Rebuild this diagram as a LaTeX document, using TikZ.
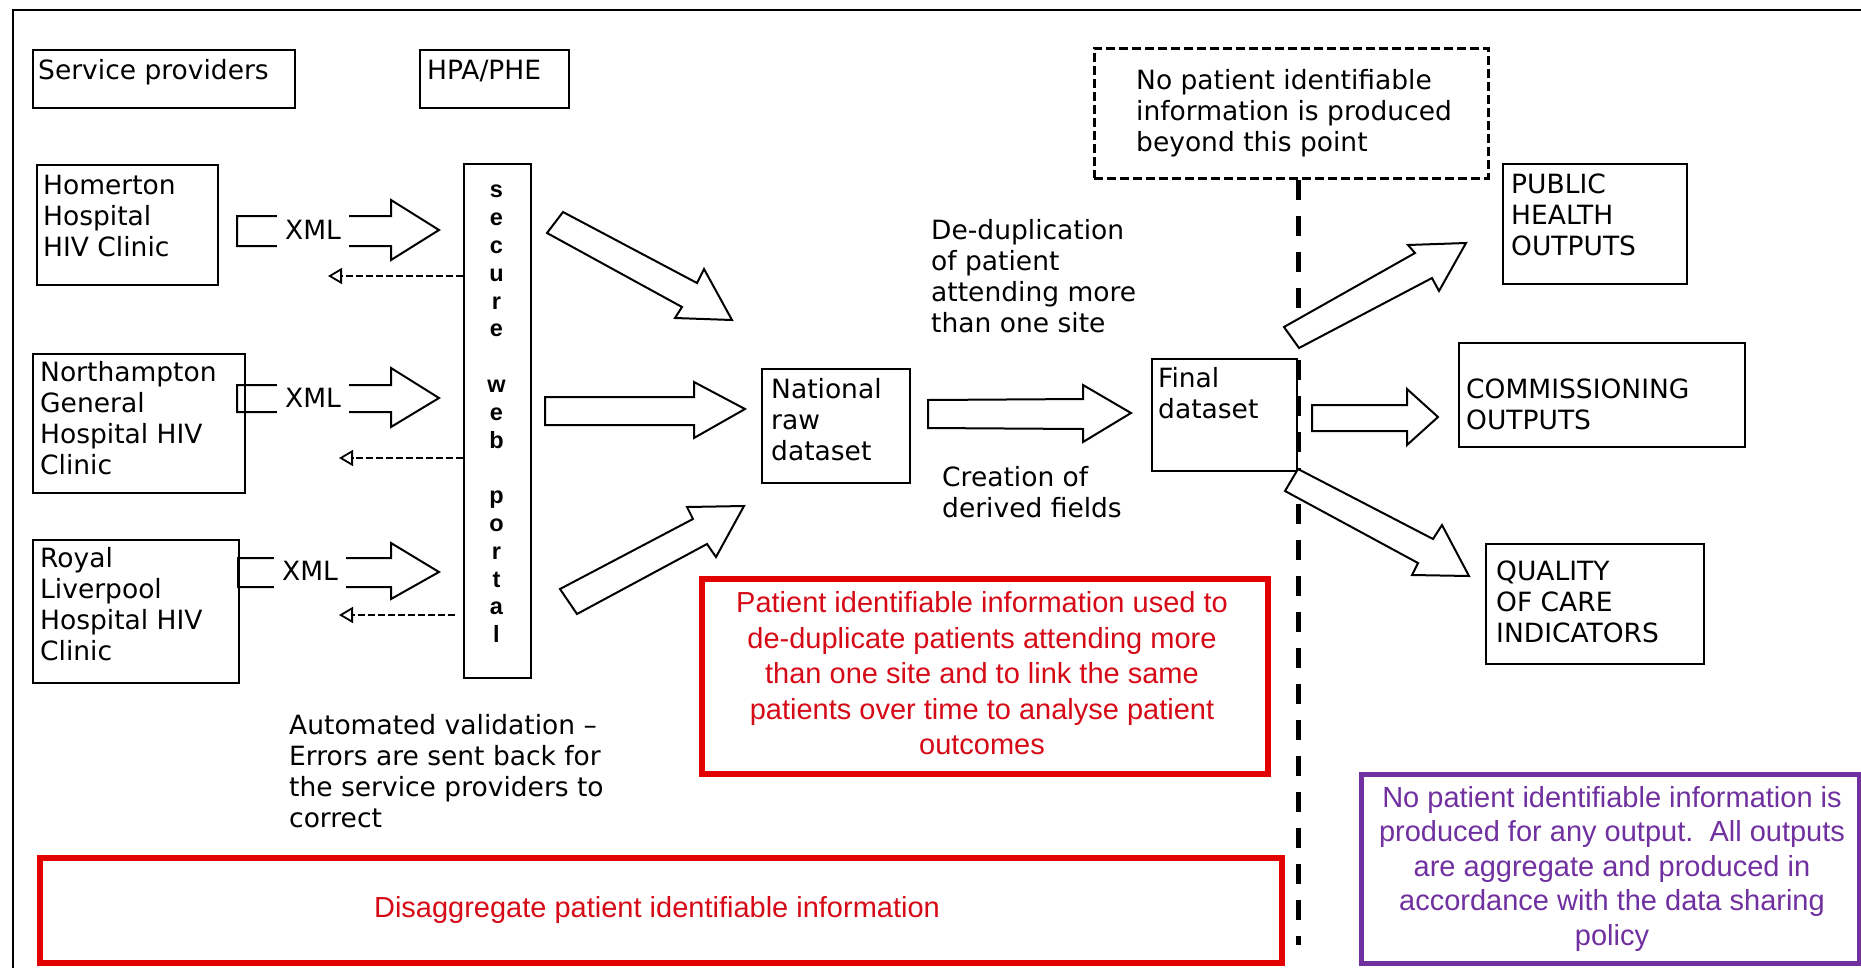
\documentclass[tikz,border=0pt]{standalone}
\usepackage{fontspec}
\setmainfont{DejaVu Sans}
\newfontfamily\arialf{Liberation Sans}
\usetikzlibrary{arrows.meta}
\definecolor{redbox}{RGB}{226,0,0}
\definecolor{redtxt}{RGB}{214,10,22}
\definecolor{purp}{RGB}{112,48,160}
\begin{document}
\begin{tikzpicture}[x=1pt,y=-1pt,
  box/.style={draw=black, line width=1.8pt, inner sep=0pt, anchor=north west},
  txt/.style={inner sep=0pt, align=left, anchor=north west, font=\fontsize{26.5}{31}\selectfont},
  blk/.style={draw=black, line width=2pt, line join=miter, fill=white},
  xmlblk/.style={draw=black, line width=2pt, line join=miter},
  xmltxt/.style={fill=white, inner xsep=8pt, inner ysep=9pt, font=\fontsize{26.5}{31}\selectfont},
  ret/.style={draw=black, line width=1.8pt, dash pattern=on 7pt off 3pt, -{Triangle[open, length=14pt, width=16pt]}},
  redframe/.style={draw=redbox, line width=6pt, inner sep=0pt, anchor=north west},
  redtext/.style={text=redtxt, align=center, inner sep=0pt, font=\arialf\fontsize{29}{35.5}\selectfont},
]
\useasboundingbox (0,0) rectangle (1861,967);
% frame
\draw[line width=2pt] (13,1000) -- (13,10) -- (1900,10);
% vertical dashed divider
\coordinate (divtop) at (1298,180);
\coordinate (divbot) at (1298,945);
\draw[line width=5pt, dash pattern=on 20pt off 16pt] (divtop) -- (divbot);

% header boxes
\node[box, minimum width=262pt, minimum height=58pt] (spbox) at (32,49) {};
\node[txt] (sptxt) at (38,59.5) {Service providers};
\node[box, minimum width=149pt, minimum height=58pt] (hpabox) at (419,49) {};
\node[txt] (hpatxt) at (427,59.5) {HPA/PHE};

% clinics
\node[box, minimum width=181pt, minimum height=120pt] (hom) at (36,164) {};
\node[txt] (homtxt) at (43,175) {Homerton\\Hospital\\HIV Clinic};
\node[box, minimum width=212pt, minimum height=139pt] (nor) at (32,353) {};
\node[txt] (nortxt) at (40,361.5) {Northampton\\General\\Hospital HIV\\Clinic};
\node[box, minimum width=206pt, minimum height=143pt] (roy) at (32,539) {};
\node[txt] (roytxt) at (40,547.5) {Royal\\Liverpool\\Hospital HIV\\Clinic};

% XML block arrows
\draw[xmlblk] (237,216) -- (391,216) -- (391,200) -- (439,230) -- (391,260) -- (391,246) -- (237,246) -- cycle;
\draw[xmlblk] (237,385) -- (391,385) -- (391,368) -- (439,398) -- (391,427) -- (391,412) -- (237,412) -- cycle;
\draw[xmlblk] (238,558) -- (391,558) -- (391,543) -- (439,572) -- (391,599) -- (391,587) -- (238,587) -- cycle;
\node[xmltxt] (xml1) at (313,230) {XML};
\node[xmltxt] (xml2) at (313,398) {XML};
\node[xmltxt] (xml3) at (310,571) {XML};

% portal
\node[box, minimum width=67pt, minimum height=514pt] (portal) at (463,163) {};
\node[anchor=north, inner sep=0pt, align=center, font=\arialf\bfseries\fontsize{23.5}{27.8}\selectfont] (portaltxt) at (496.5,185)
  {s\\e\\c\\u\\r\\e\\\mbox{}\\w\\e\\b\\\mbox{}\\p\\o\\r\\t\\a\\l};

% return dashed arrows
\coordinate (r1) at (328,276);
\coordinate (r2) at (339,458);
\coordinate (r3) at (339,615);
\coordinate (r3s) at (455,615);
\draw[ret] (portal.west |- r1) -- (r1);
\draw[ret] (portal.west |- r2) -- (r2);
\draw[ret] (r3s) -- (r3);

% arrows to national dataset
\draw[blk] (563,212) -- (697,283) -- (704,269) -- (732,320) -- (675,318) -- (682,307) -- (547,233) -- cycle;
\draw[blk] (545,397) -- (694,397) -- (694,382) -- (745,409) -- (694,438) -- (694,425) -- (545,425) -- cycle;
\draw[blk] (560,589) -- (693,519) -- (687,507) -- (744,506) -- (716,557) -- (707,544) -- (577,614) -- cycle;

% national raw dataset
\node[box, minimum width=148pt, minimum height=114pt] (nat) at (761,368) {};
\node[txt] (nattxt) at (771,378.5) {National\\raw\\dataset};

% arrow national -> final
\draw[blk] (928,400) -- (1083,399) -- (1083,385) -- (1131,413) -- (1083,442) -- (1083,429) -- (928,428) -- cycle;
\node[txt] (dedup) at (931,219.5) {De-duplication\\of patient\\attending more\\than one site};
\node[txt] (creation) at (942,466.5) {Creation of\\derived fields};

% final dataset
\node[box, minimum width=145pt, minimum height=112pt] (fin) at (1151,358) {};
\node[txt] (fintxt) at (1158,367.5) {Final\\dataset};

% dashed note box
\node[draw=black, line width=2.6pt, dash pattern=on 9pt off 4pt, inner sep=0pt, anchor=north west, minimum width=394pt, minimum height=130pt] (nopid) at (1093,47) {};
\node[txt] (nopidtxt) at (1136,69.5) {No patient identifiable\\information is produced\\beyond this point};

% output arrows
\draw[blk] (1284,327) -- (1415,253) -- (1408,245) -- (1466,243) -- (1439,291) -- (1432,278) -- (1299,348) -- cycle;
\draw[blk] (1312,405) -- (1407,405) -- (1407,389) -- (1438,417) -- (1407,445) -- (1407,431) -- (1312,431) -- cycle;
\draw[blk] (1298,469) -- (1433,539) -- (1442,525) -- (1469,576) -- (1412,575) -- (1418,563) -- (1285,491) -- cycle;

% output boxes
\node[box, minimum width=184pt, minimum height=120pt] (pho) at (1502,163) {};
\node[txt] (photxt) at (1511,173.3) {PUBLIC\\HEALTH\\OUTPUTS};
\node[box, minimum width=286pt, minimum height=104pt] (com) at (1458,342) {};
\node[txt] (comtxt) at (1466,378.3) {COMMISSIONING\\OUTPUTS};
\node[box, minimum width=218pt, minimum height=120pt] (qoc) at (1485,543) {};
\node[txt] (qoctxt) at (1496,560.3) {QUALITY\\OF CARE\\INDICATORS};

% validation note
\node[txt] (auto) at (289,714.5) {Automated validation --\\Errors are sent back for\\the service providers to\\correct};

% red boxes
\node[redframe, minimum width=566pt, minimum height=195pt] (red1) at (699,576) {};
\node[redtext, anchor=north] (red1txt) at (982,591.5) {Patient identifiable information used to\\de-duplicate patients attending more\\than one site and to link the same\\patients over time to analyse patient\\outcomes};
\node[redframe, minimum width=1242pt, minimum height=105pt] (red2) at (37,855) {};
\node[redtext, anchor=base] (red2txt) at (657,917) {Disaggregate patient identifiable information};

% purple box
\node[draw=purp, line width=5pt, inner sep=0pt, anchor=north west, minimum width=498pt, minimum height=189pt] (purbox) at (1359,772) {};
\node[text=purp, align=center, inner sep=0pt, anchor=north, font=\arialf\fontsize{29}{34.5}\selectfont] (purtxt) at (1612,786)
  {No patient identifiable information is\\produced for any output.\ \ All outputs\\are aggregate and produced in\\accordance with the data sharing\\policy};
\end{tikzpicture}
\end{document}
